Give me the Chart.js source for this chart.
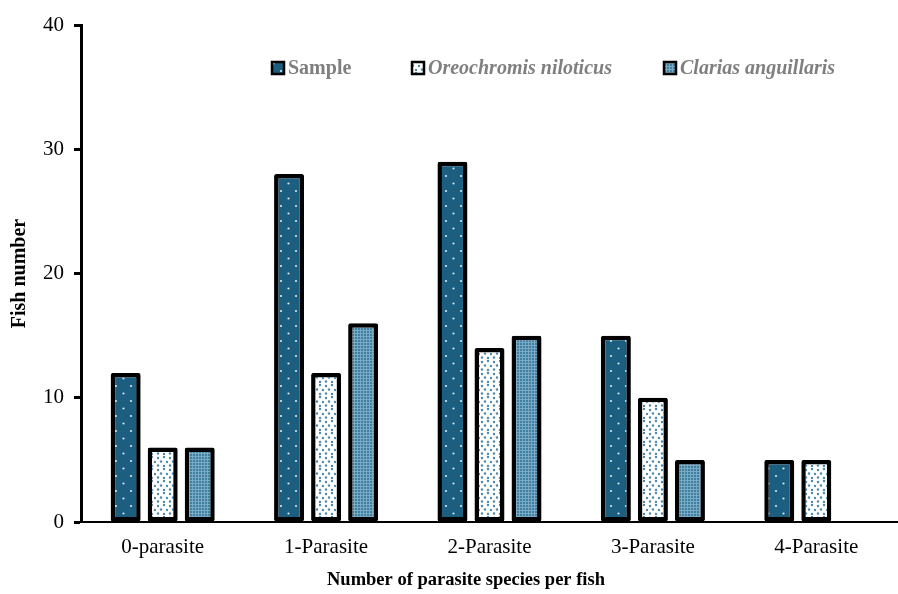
<!DOCTYPE html>
<html>
<head>
<meta charset="utf-8">
<script src="https://cdn.jsdelivr.net/npm/chart.js@4.4.1/dist/chart.umd.min.js"></script>
<style>
    html, body { margin: 0; padding: 0; background: #fff; }
    #wrap { width: 898px; height: 594px; }
</style>
</head>
<body>
<div id="wrap"><canvas id="fishChart" width="898" height="594"></canvas></div>
<script>
const categories = ['0-parasite', '1-Parasite', '2-Parasite', '3-Parasite', '4-Parasite'];
const seriesNames = ['Sample', 'Oreochromis niloticus', 'Clarias anguillaris'];
const sampleValues = [12, 28, 29, 15, 5];
const oreochromisValues = [6, 12, 14, 10, 5];
const clariasValues = [6, 16, 15, 5, 0];
const yTicks = [0, 10, 20, 30, 40];
const xTitle = 'Number of parasite species per fish';

const serif = "'Liberation Serif', 'Times New Roman', serif";

// small canvas tiles used as bar fills
function makePattern(size, bg, paint) {
    const c = document.createElement('canvas');
    c.width = size;
    c.height = size;
    const g = c.getContext('2d');
    g.fillStyle = bg;
    g.fillRect(0, 0, size, size);
    paint(g);
    return g.createPattern(c, 'repeat');
}

function dot(g, x, y, r, color) {
    g.fillStyle = color;
    g.beginPath();
    g.arc(x, y, r, 0, Math.PI * 2);
    g.fill();
}

const samplePattern = makePattern(15, '#1b5e80', g => {
    dot(g, 3.5, 3.5, 1.1, '#d8e6ee');
    dot(g, 11, 11, 1.1, '#d8e6ee');
});

const oreoPattern = makePattern(12, '#ffffff', g => {
    const c = '#4a88ad';
    dot(g, 2, 2, 1.2, c);
    dot(g, 8, 1, 1.2, c);
    dot(g, 5, 5.5, 1.2, c);
    dot(g, 11, 6, 1.2, c);
    dot(g, 2, 9.5, 1.2, c);
    dot(g, 8, 10, 1.2, c);
});

const clariasPattern = makePattern(3, '#3f7fa1', g => {
    g.fillStyle = '#7aaac4';
    g.fillRect(0, 0, 3, 1);
    g.fillRect(0, 0, 1, 3);
});

const patterns = [samplePattern, oreoPattern, clariasPattern];

// legend drawn inside the plot (mixed upright / italic labels) and the x title
const innerLegend = {
    id: 'innerLegend',
    afterDraw(chart) {
        const ctx = chart.ctx;
        const area = chart.chartArea;
        const offsets = [191, 331, 583];
        const y = area.top + 43;
        ctx.save();
        seriesNames.forEach((name, i) => {
            const x = area.left + offsets[i];
            ctx.fillStyle = patterns[i];
            ctx.fillRect(x, y - 6, 12, 12);
            ctx.lineWidth = 2.5;
            ctx.strokeStyle = '#000';
            ctx.strokeRect(x, y - 6, 12, 12);
            ctx.font = (i === 0 ? 'bold ' : 'italic bold ') + '20px ' + serif;
            ctx.fillStyle = '#7f7f7f';
            ctx.textBaseline = 'middle';
            ctx.textAlign = 'left';
            ctx.fillText(name, x + 16, y + 1);
        });

        ctx.font = 'bold 18.5px ' + serif;
        ctx.fillStyle = '#000';
        ctx.textAlign = 'center';
        ctx.textBaseline = 'middle';
        ctx.fillText(xTitle, area.left + 385, area.bottom + 58);
        ctx.restore();
    }
};

const ctx = document.getElementById('fishChart').getContext('2d');
new Chart(ctx, {
    type: 'bar',
    data: {
        labels: categories,
        datasets: [
            { label: seriesNames[0], data: sampleValues, backgroundColor: samplePattern },
            { label: seriesNames[1], data: oreochromisValues, backgroundColor: oreoPattern },
            { label: seriesNames[2], data: clariasValues, backgroundColor: clariasPattern }
        ]
    },
    options: {
        responsive: false,
        animation: false,
        layout: { padding: { top: 25, right: 0, left: 0, bottom: 0 } },
        datasets: {
            bar: {
                categoryPercentage: 0.68,
                barPercentage: 0.81,
                borderColor: '#000',
                borderWidth: c => (c.raw === 0 ? 0 : 4.5),
                borderSkipped: false,
                borderRadius: 2
            }
        },
        plugins: {
            legend: { display: false },
            tooltip: { enabled: false }
        },
        scales: {
            x: {
                grid: { display: false, drawTicks: false },
                border: { display: true, color: '#000', width: 2 },
                ticks: {
                    color: '#000',
                    padding: 13,
                    font: { family: serif, size: 21 }
                },
                title: { display: false },
                afterFit: scale => { scale.height = 72; }
            },
            y: {
                min: 0,
                max: 40,
                afterBuildTicks: scale => {
                    scale.ticks = yTicks.map(v => ({ value: v }));
                },
                grid: {
                    display: true,
                    drawOnChartArea: false,
                    drawTicks: true,
                    tickLength: 7,
                    tickWidth: 3,
                    tickColor: '#000'
                },
                border: { display: true, color: '#000', width: 3 },
                ticks: {
                    color: '#000',
                    padding: 10,
                    font: { family: serif, size: 21 }
                },
                title: {
                    display: true,
                    text: 'Fish number',
                    color: '#000',
                    font: { family: serif, size: 20, weight: 'bold' },
                    padding: { top: 8, bottom: 0 }
                },
                afterFit: scale => { scale.width = 81; }
            }
        }
    },
    plugins: [innerLegend]
});
</script>
</body>
</html>
